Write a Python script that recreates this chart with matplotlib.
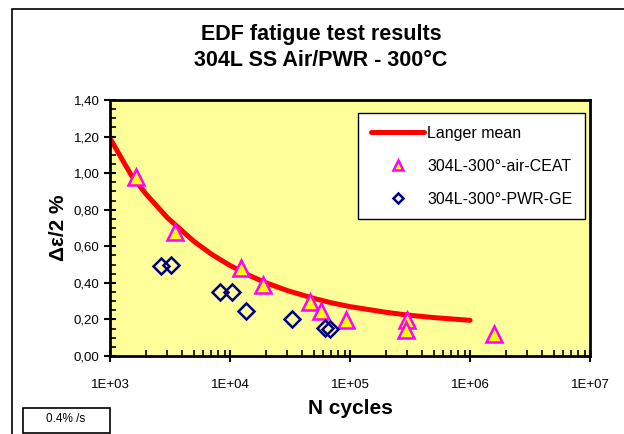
# EDF fatigue test results - 304L SS Air/PWR - 300°C
import numpy as np
import matplotlib.pyplot as plt
from matplotlib.patches import Rectangle
from matplotlib.ticker import FixedLocator, FuncFormatter, LogLocator, MultipleLocator

plt.rcParams['font.family'] = ['Liberation Sans', 'DejaVu Sans']

# Curva media de Langer
langer_n = [1e3, 1.5e3, 2e3, 3e3, 5e3, 7e3, 1e4, 1.5e4, 2e4, 3e4, 5e4, 7e4,
            1e5, 2e5, 3e5, 5e5, 1e6]
langer_eps = [1.19, 0.99, 0.885, 0.757, 0.627, 0.557, 0.495, 0.436, 0.40, 0.358,
              0.315, 0.291, 0.27, 0.239, 0.224, 0.21, 0.195]

# Ensaios ao aire (CEAT)
air_n = [1650, 3480, 12350, 18800, 46400, 57300, 92600, 298000, 293000, 1580000]
air_eps = [0.98, 0.68, 0.48, 0.39, 0.295, 0.245, 0.197, 0.197, 0.142, 0.12]

# Ensaios en auga PWR (GE)
pwr_n = [2660, 3230, 8260, 10400, 13600, 32900, 61900, 68100]
pwr_eps = [0.49, 0.50, 0.35, 0.35, 0.245, 0.20, 0.155, 0.15]

fig = plt.figure(figsize=(6.24, 4.34), dpi=100)
ax = fig.add_axes([110/624, 1 - 356/434, 480/624, 256/434])
ax.set_facecolor('#FFFF99')

ax.plot(langer_n, langer_eps, color='#FF0000', lw=3.6, solid_capstyle='round',
        label='Langer mean', zorder=2)
ax.plot(air_n, air_eps, ls='none', marker='^', ms=11, mfc='#FFFF00', mec='#FF00FF',
        mew=1.8, label='304L-300°-air-CEAT', zorder=3)
ax.plot(pwr_n, pwr_eps, ls='none', marker='D', ms=8, mfc='none', mec='#000080',
        mew=1.8, label='304L-300°-PWR-GE', zorder=3)

ax.set_xscale('log')
ax.set_xlim(1e3, 1e7)
ax.set_ylim(0, 1.4)
ax.xaxis.set_major_locator(FixedLocator([1e3, 1e4, 1e5, 1e6, 1e7]))
ax.xaxis.set_minor_locator(LogLocator(base=10, subs=np.arange(2, 10)))
ax.xaxis.set_major_formatter(FuncFormatter(lambda v, p: '1E+%02d' % round(np.log10(v))))
ax.xaxis.set_minor_formatter(FuncFormatter(lambda v, p: ''))
ax.yaxis.set_major_locator(MultipleLocator(0.2))
ax.yaxis.set_minor_locator(MultipleLocator(0.05))
ax.yaxis.set_major_formatter(FuncFormatter(lambda v, p: ('%.2f' % v).replace('.', ',')))

ax.tick_params(which='major', direction='inout', length=9, width=1.5, labelsize=9.5)
ax.tick_params(axis='x', which='major', pad=12)
ax.tick_params(axis='y', which='major', pad=3)
ax.tick_params(which='minor', direction='in', length=4, width=1.2)
for s in ax.spines.values():
    s.set_linewidth(2)

ax.set_xlabel('N cycles', fontsize=15, fontweight='bold', labelpad=6)
ax.set_ylabel('Δε/2 %', fontsize=15, fontweight='bold', labelpad=4)

leg = ax.legend(loc='upper right', bbox_to_anchor=(0.99, 0.949), borderaxespad=0,
                fontsize=11.5, frameon=True, fancybox=False, edgecolor='black',
                framealpha=1, handlelength=3.3, handletextpad=0.2, labelspacing=1.12,
                borderpad=0.8, markerscale=0.7)
leg.get_frame().set_linewidth(1)

# Título en dúas liñas (centrado no marco do gráfico, que segue á dereita)
fig.text(321/624, 1 - 40/434, 'EDF fatigue test results', ha='center', va='baseline',
         fontsize=15.5, fontweight='bold')
fig.text(321/624, 1 - 66/434, '304L SS Air/PWR - 300°C', ha='center', va='baseline',
         fontsize=15.5, fontweight='bold')

# Marco exterior e caixa da velocidade
fig.add_artist(Rectangle((12/624, -0.5), 2.0, 1.5 - 9/434, transform=fig.transFigure,
                         fill=False, lw=1.2, ec='black'))
fig.add_artist(Rectangle((23/624, 1 - 433/434), 87/624, 25/434, transform=fig.transFigure,
                         fill=False, lw=1.2, ec='black'))
fig.text(66/624, 1 - 419/434, '0.4% /s', ha='center', va='center', fontsize=8.5)

fig.savefig('out.png', dpi=100)
